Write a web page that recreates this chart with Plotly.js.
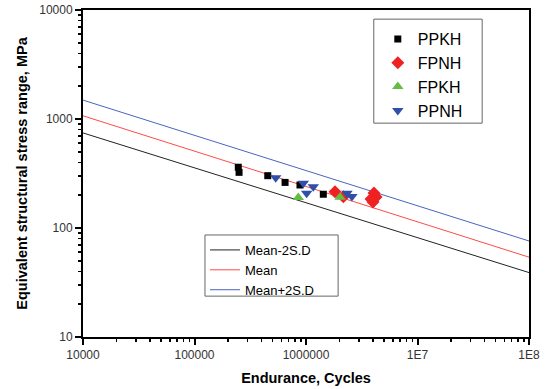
<!DOCTYPE html>
<html>
<head>
<meta charset="utf-8">
<script src="https://cdn.plot.ly/plotly-3.0.1.min.js"></script>
<style>html,body{margin:0;padding:0;background:#fff;}#chart{width:545px;height:389px;}</style>
</head>
<body>
<div id="chart"></div>
<script>
// ---- data ----
const ppkhN = [247000, 251000, 454000, 649000, 883000, 1430000];
const ppkhS = [361, 324, 302, 262, 248, 204];
const fpnhN = [1820000, 2160000, 4070000, 4250000, 3830000, 3990000];
const fpnhS = [215, 194, 209, 192, 185, 173];
const fpkhN = [853000, 2020000];
const fpkhS = [190, 191];
const ppnhN = [535000, 946000, 1162000, 1014000, 2330000, 2580000];
const ppnhS = [289, 257, 239, 208, 208, 195];

const lineN = [1e4, 1e8];
const meanMinus2SD = [745, 39];
const meanLine = [1070, 54];
const meanPlus2SD = [1490, 76];

const xTickVals = [1e4, 1e5, 1e6, 1e7, 1e8];
const xTickText = ['10000', '100000', '1000000', '1E7', '1E8'];
const yTickVals = [10, 100, 1000, 10000];
const yTickText = ['10', '100', '1000', '10000'];

function minorTicks(lo, hi) {
  const out = [];
  for (let d = lo; d < hi; d *= 10) for (let k = 2; k <= 9; k++) out.push(d * k);
  return out;
}

const FONT = 'Liberation Sans, Arial, sans-serif';

const traces = [
  {x: lineN, y: meanMinus2SD, name: 'Mean-2S.D', mode: 'lines', line: {color: '#222222', width: 1}, legend: 'legend2'},
  {x: lineN, y: meanLine, name: 'Mean', mode: 'lines', line: {color: '#ff4a4a', width: 1}, legend: 'legend2'},
  {x: lineN, y: meanPlus2SD, name: 'Mean+2S.D', mode: 'lines', line: {color: '#4a64c0', width: 1}, legend: 'legend2'},
  {x: ppkhN, y: ppkhS, name: 'PPKH', mode: 'markers', marker: {symbol: 'square', size: 7, color: '#000000'}, legend: 'legend'},
  {x: fpnhN, y: fpnhS, name: 'FPNH', mode: 'markers', marker: {symbol: 'diamond', size: 10, color: '#ee2222'}, legend: 'legend'},
  {x: fpkhN, y: fpkhS, name: 'FPKH', mode: 'markers', marker: {symbol: 'triangle-up', size: 10, color: '#66bb44'}, legend: 'legend'},
  {x: ppnhN, y: ppnhS, name: 'PPNH', mode: 'markers', marker: {symbol: 'triangle-down', size: 10, color: '#2f4fa8'}, legend: 'legend'}
];

const axisCommon = {
  type: 'log', showgrid: false, zeroline: false,
  showline: true, linecolor: '#000', linewidth: 2, mirror: true,
  ticks: 'outside', ticklen: 6, tickwidth: 2, tickcolor: '#000',
  tickmode: 'array',
  tickfont: {family: FONT, size: 12, color: '#333'}
};

const layout = {
  width: 545, height: 389,
  margin: {l: 83, r: 16, t: 10, b: 52},
  paper_bgcolor: '#fff', plot_bgcolor: '#fff',
  font: {family: FONT, color: '#000'},
  xaxis: Object.assign({}, axisCommon, {
    range: [4, 8], tickvals: xTickVals, ticktext: xTickText,
    minor: {tickvals: minorTicks(1e4, 1e8), ticks: 'outside', ticklen: 3, tickwidth: 1.5, tickcolor: '#000', showgrid: false},
    title: {text: '<b>Endurance, Cycles</b>', font: {family: FONT, size: 14.5, color: '#000'}, standoff: 11}
  }),
  yaxis: Object.assign({}, axisCommon, {
    range: [1, 4], tickvals: yTickVals, ticktext: yTickText,
    minor: {tickvals: minorTicks(10, 10000), ticks: 'outside', ticklen: 3, tickwidth: 1.5, tickcolor: '#000', showgrid: false},
    title: {text: '<b>Equivalent structural stress range, MPa</b>', font: {family: FONT, size: 14.5, color: '#000'}, standoff: 8}
  }),
  legend: {
    x: 0.661, y: 0.963, xanchor: 'left', yanchor: 'top',
    bgcolor: 'rgba(0,0,0,0)', borderwidth: 0,
    font: {family: FONT, size: 16, color: '#000'},
    tracegroupgap: 0
  },
  legend2: {
    x: 0.2735, y: 0.312, xanchor: 'left', yanchor: 'top',
    bgcolor: 'rgba(0,0,0,0)', borderwidth: 0,
    font: {family: FONT, size: 13, color: '#000'},
    tracegroupgap: 0
  },
  shapes: [
    {type: 'rect', xref: 'paper', yref: 'paper', x0: 0.652, x1: 0.895, y0: 0.654, y1: 0.972, line: {color: '#666', width: 1}},
    {type: 'rect', xref: 'paper', yref: 'paper', x0: 0.2735, x1: 0.572, y0: 0.125, y1: 0.312, line: {color: '#666', width: 1}}
  ],
  showlegend: true
};

Plotly.newPlot('chart', traces, layout, {displayModeBar: false, staticPlot: true});
</script>
</body>
</html>
